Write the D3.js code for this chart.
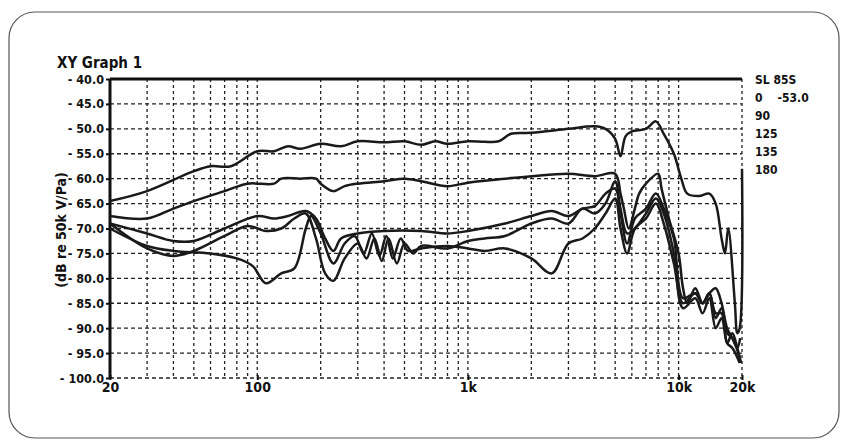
<!DOCTYPE html>
<html><head><meta charset="utf-8">
<script src="https://cdn.jsdelivr.net/npm/d3@7"></script>
<style>body{margin:0;background:#fff}text{font-family:"DejaVu Sans Condensed","Liberation Sans Narrow",sans-serif;font-stretch:condensed;font-weight:bold;fill:#111}</style>
</head><body>
<svg id="c" width="850" height="446"></svg>
<script>
const yTicks = d3.range(-40, -100.1, -5);
const xTickLabels = [[20,"20"],[100,"100"],[1000,"1k"],[10000,"10k"],[20000,"20k"]];
const legend = ["SL 85S","0    -53.0","90","125","135","180"];

const s0 = [[20,-64.5],[30,-62.5],[50,-58.5],[60,-57.5],[75,-57.5],[100,-54.5],[120,-54.5],[140,-53.5],[160,-54],[200,-53],[250,-53.5],[300,-52.5],[400,-52.7],[500,-52.5],[600,-53.2],[700,-52.5],[800,-53],[1000,-52.5],[1200,-52.6],[1400,-52.5],[1600,-51],[2000,-50.8],[3000,-50],[4000,-49.5],[4500,-50],[5000,-52],[5300,-55.5],[5600,-51.5],[6000,-50.5],[7000,-50],[7800,-48.5],[8500,-51],[9500,-55],[10300,-60],[11000,-63],[12500,-63.5],[14000,-63],[15000,-65],[16000,-72],[16600,-75],[17200,-70],[18500,-85],[19000,-91],[19500,-90],[20000,-58]];
const s90 = [[20,-67.5],[30,-68],[40,-66],[50,-64.5],[70,-62.5],[90,-61],[120,-61],[130,-60],[160,-60],[190,-60],[200,-61],[230,-62.5],[260,-61.5],[300,-61],[400,-60.5],[500,-60],[600,-60.5],[800,-61.5],[1000,-60.8],[1500,-60],[2000,-59.5],[3000,-59],[4000,-59.5],[5000,-59],[5300,-63],[5500,-66],[5800,-70],[6200,-66],[6500,-63],[7000,-61],[8000,-59],[8300,-62],[9000,-68],[10000,-75],[10500,-82],[11000,-85],[12000,-82],[13000,-85],[14000,-83],[15000,-82],[16000,-85],[17000,-90],[18000,-92],[19000,-94],[19600,-92]];
const s125 = [[20,-69],[30,-71],[40,-72.5],[50,-72.5],[70,-70],[100,-67.5],[120,-68],[140,-67.5],[170,-66.5],[190,-68],[210,-72],[230,-74.5],[250,-72],[300,-71],[400,-70.5],[600,-70.5],[800,-71],[1000,-70.5],[1500,-69],[2000,-67.5],[2500,-66.5],[3000,-67.5],[3500,-66],[4000,-65.5],[4500,-63],[5000,-62],[5300,-67],[5700,-73],[6200,-68],[7000,-66],[7800,-63],[8500,-66],[9500,-72],[10500,-84],[12000,-83],[13000,-85],[14000,-83],[15000,-87],[16000,-87],[17000,-93],[18000,-91],[19000,-94],[19800,-97]];
const s135 = [[20,-69],[30,-74],[40,-75.5],[50,-74.5],[70,-71.5],[90,-69.5],[110,-70.5],[130,-70],[150,-68],[170,-67],[190,-72],[210,-79],[230,-80.5],[260,-76],[300,-73],[330,-76],[360,-72],[390,-76.5],[420,-72],[460,-77],[500,-73],[550,-75],[600,-73.5],[800,-74],[1000,-72.5],[1200,-72],[1500,-71.5],[2000,-69],[2500,-68],[3000,-69],[3500,-66],[4000,-67],[4500,-65],[5000,-60.5],[5300,-66],[5700,-71],[6200,-70],[7000,-67],[7800,-64],[8500,-67],[9500,-75],[10500,-86],[12000,-84],[13000,-87],[14000,-84],[15000,-90],[16000,-88],[17000,-93],[18000,-94],[19500,-97]];
const s180 = [[20,-70],[30,-73.5],[40,-74.5],[60,-75],[80,-76],[95,-77.5],[110,-81],[130,-79],[150,-78],[170,-70],[180,-67.5],[200,-71],[230,-77],[260,-73],[290,-71.5],[320,-75],[350,-71],[380,-75.5],[410,-71.5],[440,-76],[480,-72],[520,-74.5],[600,-74],[800,-73.5],[1000,-74],[1200,-74.5],[1500,-74],[2000,-76],[2500,-79],[3000,-73],[3500,-72],[4000,-70],[4500,-67],[5000,-64],[5300,-70],[5700,-75],[6200,-70],[7000,-68],[7800,-65],[8500,-69],[9500,-77],[10500,-85],[12000,-83],[13000,-85],[14000,-83],[15000,-88],[16000,-86],[17000,-91],[18000,-92],[19500,-96]];
const series = [s0, s90, s125, s135, s180];

const svg = d3.select("#c");
svg.append("rect").attr("x",9).attr("y",12).attr("width",830).attr("height",426).attr("rx",26)
  .attr("fill","none").attr("stroke","#555").attr("stroke-width",1.2);

const x = d3.scaleLog().domain([20,20000]).range([110,742]);
const y = d3.scaleLinear().domain([-40,-100]).range([79,378]);

const gridX = [];
[10,100,1000].forEach(m => d3.range(1,10).forEach(k => { const f=k*m; if(f>20) gridX.push(f); }));
gridX.push(10000, 20000);
svg.append("g").selectAll("line").data(gridX).join("line")
  .attr("x1",d=>x(d)).attr("x2",d=>x(d)).attr("y1",y(-40)).attr("y2",y(-100))
  .attr("stroke","#222").attr("stroke-width",1.3).attr("stroke-dasharray","3,3");
svg.append("g").selectAll("line").data(yTicks.slice(1)).join("line")
  .attr("x1",x(20)).attr("x2",x(20000)).attr("y1",d=>y(d)).attr("y2",d=>y(d))
  .attr("stroke","#222").attr("stroke-width",1.3).attr("stroke-dasharray","4,3");
svg.append("line").attr("x1",x(20)).attr("x2",x(20000)).attr("y1",y(-40)).attr("y2",y(-40)).attr("stroke","#111").attr("stroke-width",3);
svg.append("line").attr("x1",x(20)).attr("x2",x(20)).attr("y1",y(-40)).attr("y2",y(-100)).attr("stroke","#111").attr("stroke-width",3);

const ya = svg.append("g").attr("transform",`translate(${x(20)},0)`)
  .call(d3.axisLeft(y).tickValues(yTicks).tickSize(4).tickFormat(d=>"- "+Math.abs(d).toFixed(1)));
ya.select(".domain").remove();
ya.selectAll("line").attr("stroke","#111").attr("stroke-width",2);
ya.selectAll("text").attr("font-size",12.5).attr("dx",1);

const xa = svg.append("g").attr("transform",`translate(0,${y(-100)})`)
  .call(d3.axisBottom(x).tickValues(xTickLabels.map(d=>d[0])).tickSize(5).tickFormat((d,i)=>xTickLabels[i][1]));
xa.select(".domain").remove();
xa.selectAll("line").attr("stroke","#111").attr("stroke-width",2).attr("transform","translate(0,-3)");
xa.selectAll("text").attr("font-size",14).attr("dy","0.45em");

svg.append("text").attr("x",57).attr("y",68).attr("font-size",15).text("XY Graph 1");
svg.append("text").attr("transform","translate(66,230) rotate(-90)").attr("text-anchor","middle").attr("font-size",14).text("(dB re 50k V/Pa)");

const line = d3.line().x(d=>x(d[0])).y(d=>y(d[1])).curve(d3.curveCatmullRom.alpha(0.5));
svg.append("g").selectAll("path").data(series).join("path")
  .attr("d",line).attr("fill","none").attr("stroke","#1a1a1a").attr("stroke-width",2.5).attr("stroke-linejoin","round");

svg.append("g").selectAll("text").data(legend).join("text")
  .attr("x",755).attr("y",(d,i)=>84+i*18).attr("font-size",12).attr("xml:space","preserve").text(d=>d);
</script>
</body></html>
